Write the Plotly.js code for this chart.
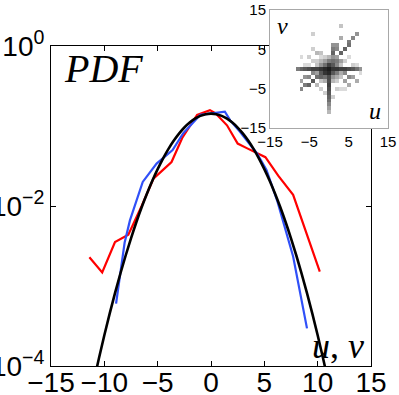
<!DOCTYPE html>
<html>
<head>
<meta charset="utf-8">
<script src="https://cdn.plot.ly/plotly-3.0.1.min.js"></script>
<style>html,body{margin:0;padding:0;background:#fff;}#chart{width:399px;height:395px;}</style>
</head>
<body>
<div id="chart"></div>
<script>
// ---- main PDF data (x = u or v, p = probability density) ----
const xRed  = [-11.4, -10.2, -9.0, -7.75, -6.5, -5.4, -4.6, -3.7, -2.7, -1.3, -0.1, 0.4, 1.5, 2.5, 3.4, 4.3, 5.1, 6.3, 7.7, 10.2];
const pRed  = [0.00229, 0.00148, 0.00355, 0.00437, 0.0100, 0.0219, 0.0275, 0.0355, 0.0708, 0.138, 0.158, 0.145, 0.102, 0.0603, 0.0525, 0.0457, 0.0407, 0.0240, 0.0138, 0.00151];

const xBlue = [-8.9, -8.1, -7.6, -6.4, -5.1, -3.6, -2.6, -1.6, -1.0, 1.3, 1.8, 2.7, 3.5, 4.3, 5.2, 6.2, 7.7, 9.0];
const pBlue = [0.000603, 0.00347, 0.00661, 0.0200, 0.0339, 0.0501, 0.0813, 0.112, 0.138, 0.151, 0.1175, 0.0851, 0.0631, 0.0457, 0.0282, 0.0117, 0.00234, 0.000295];

const xGauss = [-11, -10.5, -10, -9.5, -9, -8.5, -8, -7.5, -7, -6.5, -6, -5.5, -5, -4.5, -4, -3.5, -3, -2.5, -2, -1.5, -1, -0.5, 0,
                0.5, 1, 1.5, 2, 2.5, 3, 3.5, 4, 4.5, 5, 5.5, 6, 6.5, 7, 7.5, 8, 8.5, 9, 9.5, 10, 10.5, 11];
const pGauss = [6.35e-5, 0.000126, 0.000242, 0.000451, 0.000814, 0.001422, 0.002405, 0.00394, 0.00626, 0.00963, 0.01435, 0.0207, 0.0289, 0.0392, 0.0514, 0.0653, 0.0803, 0.0957, 0.1104, 0.1235, 0.1337, 0.1403, 0.1426,
                0.1403, 0.1337, 0.1235, 0.1104, 0.0957, 0.0803, 0.0653, 0.0514, 0.0392, 0.0289, 0.0207, 0.01435, 0.00963, 0.00626, 0.00394, 0.002405, 0.001422, 0.000814, 0.000451, 0.000242, 0.000126, 6.35e-5];

// ---- tick labels ----
const xTicks = [-15, -10, -5, 0, 5, 10, 15];
const yTickVals = [1, 0.01, 0.0001];
const yTickText = ['10<sup>0</sup>', '10<sup>\u22122</sup>', '10<sup>\u22124</sup>'];
const insetTicks = [-15, -5, 5, 15];

// ---- inset joint histogram cells (u, v, darkness 0..1) ----
const cellU = [0,1,-1,0,0,1,-1,1,-1, 2,-2,0,0,2,2,-2,-2,1,-1,1,-1,2,-2,2,-2,
  3,-3,0,0,3,3,-3,-3,1,-1,1,-1,3,-3,3,-3,2,-2,2,-2,
  4,5,6,7,8,-4,-5,-6,-7,-8,
  3,4,5,5,6,7, 2,2,3,3, 1,1,1,
  0,0,0,0,0,0,0,0,
  -4,-5,-6,-7, -4,-5,-6,-7,
  4,5,6,7,4,5,
  -3,-4,-4,-5,-7,-2,
  4,5,-5,6,-4,2,-2,-3,3,-1,1,-6,4,7,8];
const cellV = [0,0,0,1,-1,1,-1,-1,1, 0,0,2,-2,1,-1,1,-1,2,2,-2,-2,2,-2,-2,2,
  0,0,3,-3,1,-1,1,-1,3,3,-3,-3,2,-2,-2,2,3,3,-3,-3,
  0,0,0,0,0,0,0,0,0,0,
  4,5,6,7,8,9, 5,6,8,11, 4,5,6,
  -4,-5,-6,-7,-8,-9,-10,-11,
  -3,-4,-4,-5, -1,-2,-2,-3,
  -1,-2,-2,-3,-3,-4,
  4,5,9,3,3,4,
  2,3,1,1,2,-5,-5,-4,-5,-6,-7,1,-5,1,-1];
const cellD = [0.95,0.85,0.9,0.8,0.9,0.7,0.85,0.7,0.6, 0.85,0.85,0.55,0.75,0.5,0.55,0.45,0.7,0.6,0.4,0.45,0.6,0.55,0.65,0.35,0.3,
  0.8,0.8,0.3,0.75,0.25,0.35,0.25,0.4,0.45,0.2,0.3,0.35,0.4,0.6,0.25,0.2,0.4,0.15,0.2,0.25,
  0.8,0.75,0.7,0.6,0.45,0.8,0.75,0.7,0.65,0.55,
  0.65,0.65,0.6,0.55,0.5,0.45, 0.5,0.45,0.35,0.25, 0.65,0.55,0.45,
  0.8,0.75,0.7,0.65,0.6,0.5,0.4,0.3,
  0.7,0.65,0.55,0.5, 0.5,0.5,0.45,0.4,
  0.5,0.5,0.4,0.35,0.4,0.35,
  0.3,0.2,0.2,0.2,0.15,0.25,
  0.2,0.15,0.15,0.2,0.2,0.2,0.2,0.3,0.15,0.2,0.2,0.15,0.15,0.15,0.15];

// build the heatmap table from the cell lists
const gridAxis = [];
for (let k = -15; k <= 15; k++) gridAxis.push(k);
const zGrid = gridAxis.map(() => gridAxis.map(() => null));
cellU.forEach((u, i) => { zGrid[cellV[i] + 15][u + 15] = cellD[i]; });

const traces = [
  {x: xRed, y: pRed, type: 'scatter', mode: 'lines', line: {color: '#ff0000', width: 2.2}, xaxis: 'x', yaxis: 'y'},
  {x: xBlue, y: pBlue, type: 'scatter', mode: 'lines', line: {color: '#3050f8', width: 2.2}, xaxis: 'x', yaxis: 'y'},
  {x: xGauss, y: pGauss, type: 'scatter', mode: 'lines', line: {color: '#000000', width: 2.6, shape: 'spline'}, xaxis: 'x', yaxis: 'y'},
  {x: gridAxis, y: gridAxis, z: zGrid, type: 'heatmap', xaxis: 'x2', yaxis: 'y2', showscale: false,
   zmin: 0, zmax: 1, colorscale: [[0, '#ffffff'], [1, '#111111']], hoverinfo: 'skip'}
];

const W = 399, H = 395;
const layout = {
  width: W, height: H,
  margin: {l: 0, r: 0, t: 0, b: 0},
  paper_bgcolor: '#ffffff', plot_bgcolor: '#ffffff',
  showlegend: false,
  font: {family: '"Liberation Sans", Arial, sans-serif', size: 28, color: '#000'},
  xaxis: {
    domain: [51 / W, 371 / W], range: [-15, 15], tickvals: xTicks, anchor: 'y',
    ticks: 'inside', ticklen: 5, tickcolor: '#000', mirror: 'ticks', showline: true, linecolor: '#000', linewidth: 1,
    showgrid: false, zeroline: false, tickfont: {size: 28}, ticklabelstandoff: -9
  },
  yaxis: {
    domain: [29 / H, 349 / H], type: 'log', range: [-4, 0], tickvals: yTickVals, ticktext: yTickText, anchor: 'x',
    ticks: 'inside', ticklen: 5, tickcolor: '#000', mirror: 'ticks', showline: true, linecolor: '#000', linewidth: 1,
    showgrid: false, zeroline: false, tickfont: {size: 28}, ticklabelstandoff: 0
  },
  xaxis2: {
    domain: [270 / W, 388 / W], range: [-15, 15], tickvals: insetTicks, anchor: 'y2',
    ticks: '', showline: true, mirror: true, linecolor: '#a8a8a8', linewidth: 1,
    showgrid: false, zeroline: false, tickfont: {size: 15}
  },
  yaxis2: {
    domain: [267 / H, 385 / H], range: [-15, 15], tickvals: insetTicks, anchor: 'x2',
    ticks: '', showline: true, mirror: true, linecolor: '#a8a8a8', linewidth: 1,
    showgrid: false, zeroline: false, tickfont: {size: 15}
  },
  annotations: [
    {xref: 'paper', yref: 'paper', x: 62 / W, y: 1 - 68 / H, xanchor: 'left', yanchor: 'middle', showarrow: false,
     text: '<i>PDF</i>', font: {family: '"Liberation Serif", "DejaVu Serif", serif', size: 40, color: '#000'}},
    {xref: 'paper', yref: 'paper', x: 366 / W, y: 1 - 346 / H, xanchor: 'right', yanchor: 'middle', showarrow: false,
     text: '<i>u</i>, <i>v</i>', font: {family: '"Liberation Serif", "DejaVu Serif", serif', size: 36, color: '#000'}},
    {xref: 'paper', yref: 'paper', x: 282 / W, y: 1 - 26 / H, xanchor: 'center', yanchor: 'middle', showarrow: false,
     text: '<i>v</i>', font: {family: '"Liberation Serif", "DejaVu Serif", serif', size: 24, color: '#000'}},
    {xref: 'paper', yref: 'paper', x: 375 / W, y: 1 - 111 / H, xanchor: 'center', yanchor: 'middle', showarrow: false,
     text: '<i>u</i>', font: {family: '"Liberation Serif", "DejaVu Serif", serif', size: 24, color: '#000'}}
  ]
};

Plotly.newPlot('chart', traces, layout, {staticPlot: true, displayModeBar: false});
</script>
</body>
</html>
